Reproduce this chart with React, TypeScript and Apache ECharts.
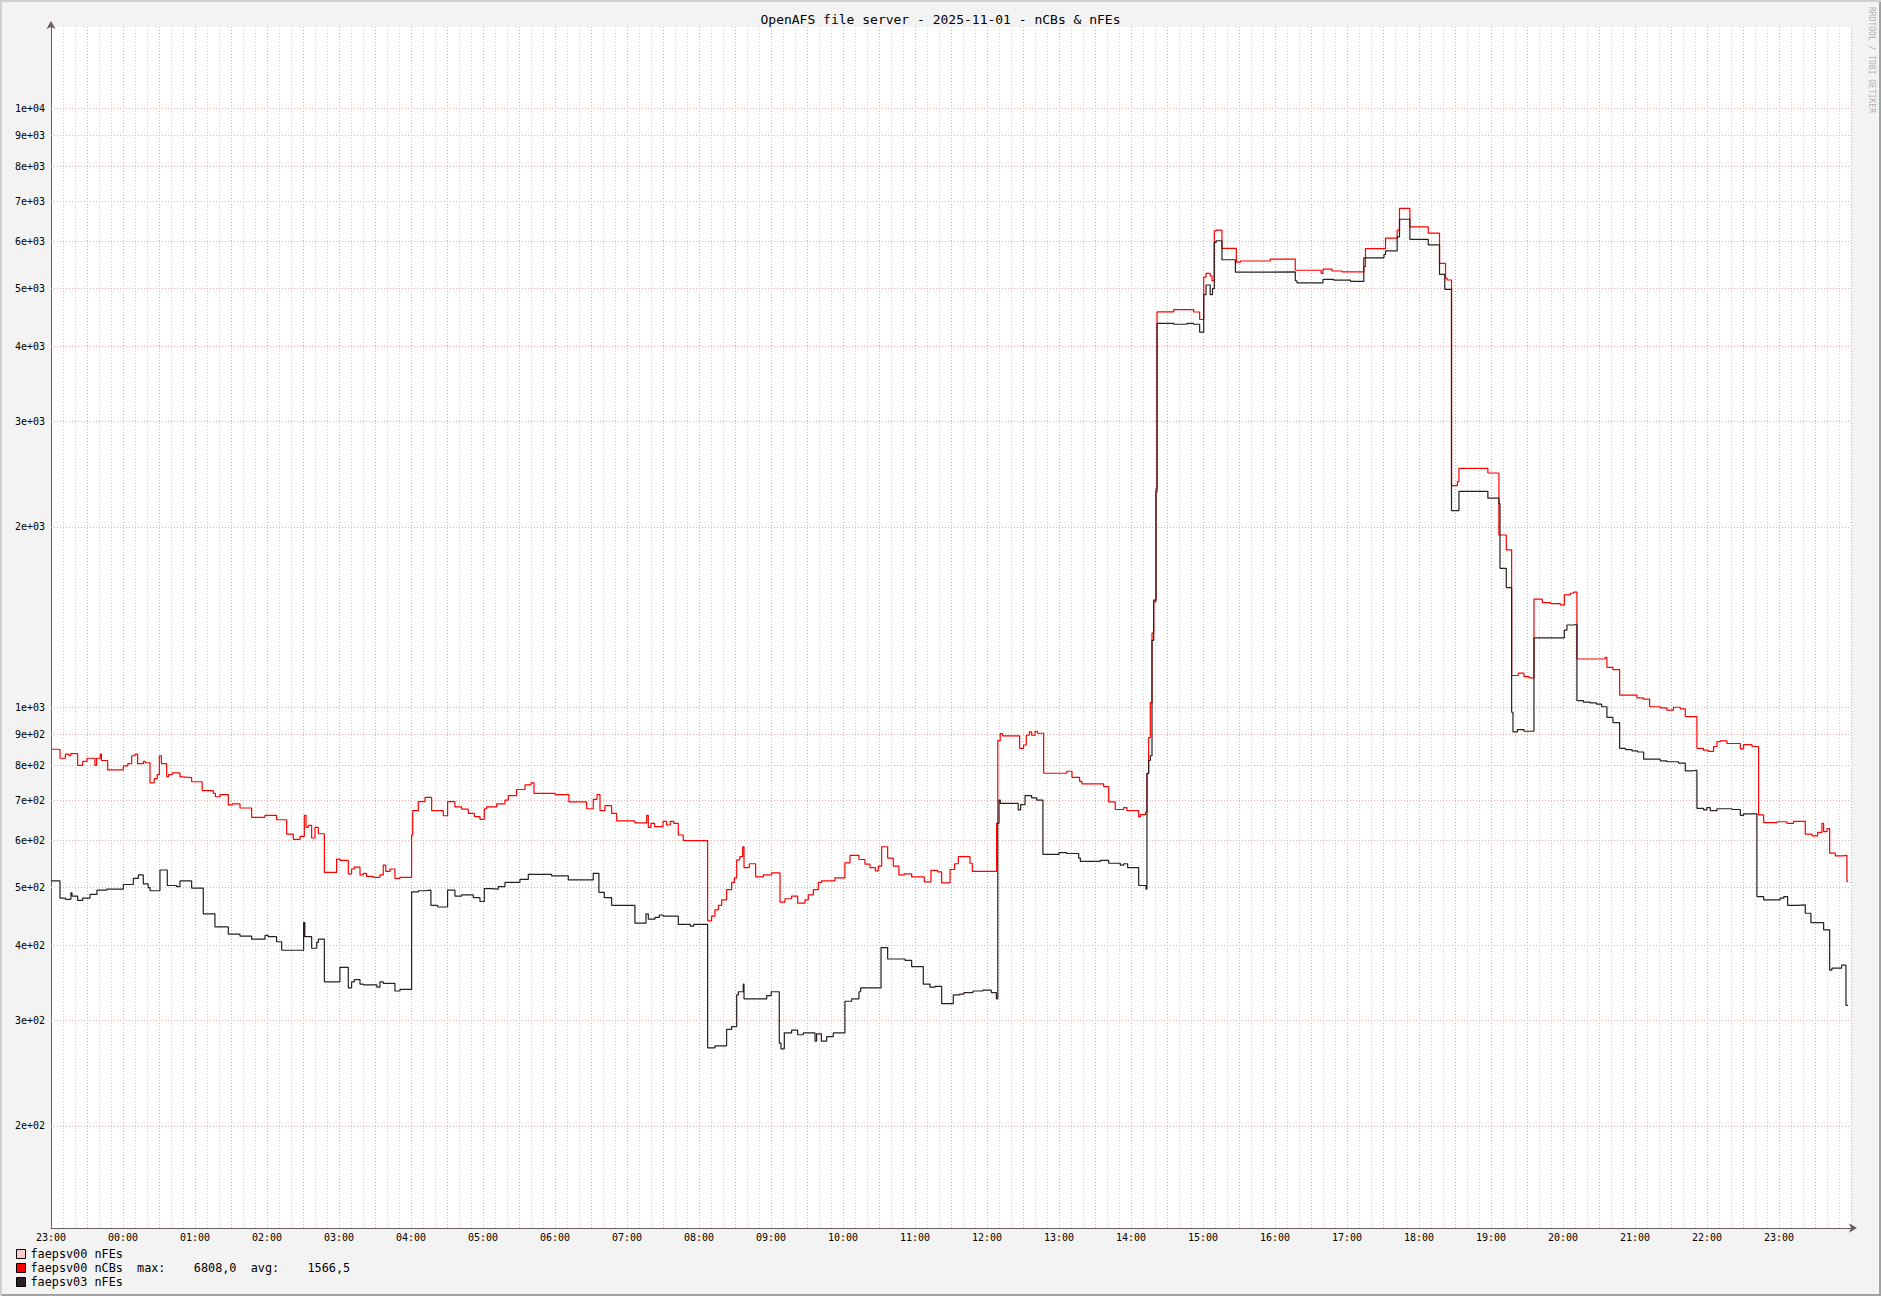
import React, { useEffect, useRef } from 'react';
import * as echarts from 'echarts';

const FONT = '"DejaVu Sans Mono", "Liberation Mono", monospace';
const TITLE = 'OpenAFS file server - 2025-11-01 - nCBs & nFEs';
const CREDIT = 'RRDTOOL / TOBI OETIKER';
const START_HOUR = 23; // x axis starts 2025-10-31 23:00, unit = minutes
const SPAN_MIN = 1500;

const seriesNames = ['faepsv00 nFEs', 'faepsv00 nCBs', 'faepsv03 nFEs'];
const seriesColors = ['#ffcccc', '#ff0000', '#2a1e1e'];
const nCBsMax = '6808,0';
const nCBsAvg = '1566,5';

const yTickValues = [200, 300, 400, 500, 600, 700, 800, 900, 1000, 2000, 3000, 4000, 5000, 6000, 7000, 8000, 9000, 10000];

const pinkTimes: number[] = [];
const pinkValues: number[] = [];

const redTimes = [
  0, 7.5, 12, 15, 16.5, 22.2, 26.4, 30, 36.6, 38, 41, 42, 47.2, 60.3, 64, 67.2, 70, 72.2, 77, 78.5,
  82.5, 86, 88.5, 90.3, 92, 96.4, 98, 101, 107.5, 109, 117.2, 126, 135.3, 137, 140.8, 147.75, 151, 157.5, 167.2, 178.3,
  188, 196.4, 201.9, 207.5, 211.1, 212.5, 214.4, 217.2, 220, 222.8, 227.8, 238, 241, 247.75, 250.5, 252.75, 257.5, 260.25, 263, 268.6,
  274.1, 276.9, 279, 282.5, 286.6, 290.8, 300.5, 301.4, 306.1, 311.7, 317.2, 326.9, 330.5, 336.6, 342.2, 347.75, 352.75, 357.5, 361.1, 363,
  371.4, 378.3, 381.1, 388, 395, 400, 402.5, 420, 431.6, 446.4, 451.9, 455, 457.5, 461.6, 467.2, 471.4, 486.6, 496.4, 497.75, 500,
  503, 510, 513, 516, 519, 522.75, 526.9, 547.2, 550.5, 553.3, 556.1, 558.9, 563, 567.2, 569.5, 571.4, 574, 576.4, 577.5, 581.9,
  587.2, 593.6, 600.5, 607.5, 611.6, 617.2, 622.2, 628.3, 631.1, 635.3, 639.4, 642, 653.3, 661.6, 665.8, 673.3, 678.3, 682.5, 687, 689.4,
  692.2, 697.2, 701.9, 706.6, 711.1, 717.2, 727.75, 733.3, 738.9, 742.2, 749.2, 753, 756.1, 765.8, 767.75, 788, 789, 791, 793, 807.2,
  810.5, 812.75, 815.3, 817.2, 820, 822, 827.2, 846.5, 850.8, 857.2, 859.1, 877.2, 881.4, 886.9, 893.9, 896.7, 906.4, 907.8, 912, 913.3,
  914.7, 916.1, 917.5, 918.9, 920.8, 921.7, 935.6, 952.2, 957.2, 960.6, 962.5, 966, 967.5, 969.4, 971, 975.8, 987.8, 991.1, 1016.1, 1036.9,
  1058.5, 1060, 1067.5, 1075.9, 1094, 1095.4, 1112.1, 1121.8, 1123.75, 1132.4, 1147.7, 1157.1, 1162.1, 1163.5, 1167.1, 1172, 1173.3, 1197.4, 1206.6, 1212.75,
  1217.2, 1222.75, 1227.5, 1231.6, 1235.8, 1242.75, 1249.75, 1257.75, 1261.1, 1266, 1268.8, 1271.6, 1295.2, 1296.6, 1301.6, 1307.2, 1321.6, 1327, 1332.2, 1341,
  1346.6, 1352, 1357.7, 1361.9, 1371.6, 1377, 1381, 1385.5, 1388.3, 1391.1, 1396.6, 1407.75, 1410.5, 1417.5, 1423, 1427.2, 1438.3, 1446.6, 1452.2, 1461.9,
  1467.5, 1472.2, 1475.8, 1477.2, 1480, 1482.2, 1486.9, 1492.5, 1496.6, 1497.5,
];
const redValues = [
  851, 822, 835, 830, 837, 800, 812, 822, 800, 822, 835, 815, 786, 798, 805, 830, 835, 805, 812, 808,
  748, 760, 772, 830, 805, 766, 772, 777, 765, 763, 751, 726, 718, 709, 715, 687, 690, 679, 655, 660,
  649, 614, 602, 609, 660, 630, 635, 605, 630, 615, 530, 558, 555, 527, 537, 541, 525, 528, 522, 520,
  525, 545, 532, 537, 518, 520, 612, 672, 696, 707, 672, 659, 696, 682, 676, 665, 657, 650, 677, 682,
  690, 700, 712, 729, 742, 748, 718, 715, 695, 677, 702, 715, 672, 685, 665, 646, 641, 660, 630, 640,
  632, 645, 636, 645, 640, 612, 599, 440, 448, 459, 467, 477, 496, 510, 519, 556, 563, 585, 540, 548,
  521, 525, 529, 473, 479, 484, 471, 477, 486, 496, 510, 513, 519, 550, 566, 557, 547, 540, 533, 543,
  585, 560, 543, 525, 527, 521, 511, 534, 531, 509, 536, 548, 563, 549, 532, 640, 880, 904, 896, 854,
  865, 898, 910, 898, 912, 905, 776, 782, 764, 752, 745, 737, 695, 675, 680, 672, 656, 662, 668, 776,
  890, 1018, 1330, 1499, 2317, 4571, 4612, 4570, 4440, 5226, 5300, 5250, 5150, 6240, 6260, 5836, 5534, 5560, 5600, 5365,
  5300, 5390, 5350, 5330, 5440, 5832, 6071, 6260, 6808, 6339, 6187, 5507, 5200, 5168, 2344, 2380, 2506, 2461, 1939, 1832,
  1130, 1140, 1125, 1120, 1515, 1495, 1490, 1482, 1540, 1550, 1557, 1204, 1212, 1166, 1156, 1048, 1037, 1032, 1002, 998,
  989, 1000, 994, 965, 854, 848, 844, 860, 876, 879, 870, 852, 866, 860, 661, 642, 644, 640, 645, 614,
  610, 618, 640, 620, 627, 571, 565, 566, 512, 512,
];

const blackTimes = [
  0, 7.5, 12, 16.6, 17.5, 22.2, 26.4, 32.5, 38.3, 46.4, 60.3, 68.6, 72.8, 76.9, 81, 82.5, 90.8, 96.9, 104.7, 107.5,
  117.2, 126.9, 136.6, 147.75, 157.5, 167.2, 178.3, 181, 188, 192.2, 210.5, 211.5, 217.2, 221.4, 222.8, 227.8, 240.75, 247.75, 250.5, 252.75,
  257.5, 260.25, 271.5, 274.1, 276.9, 286.6, 290.8, 300.5, 306.1, 311.7, 316.6, 322.2, 330.5, 336.6, 342.2, 351.9, 357.5, 361.1, 367, 372.7,
  378.3, 390.8, 397.75, 417.2, 431.1, 451.9, 456.6, 461.1, 467.2, 486.6, 495.8, 497.75, 503.3, 507, 510, 522.75, 532.8, 535.6, 547.2, 553.3,
  563, 567.2, 571.4, 572.8, 576.9, 577.5, 596.4, 600.2, 606.9, 608.3, 611.1, 617.2, 622.2, 626.9, 636.7, 638, 642, 646.4, 651.9, 661.6,
  667.2, 673.3, 674.7, 691.7, 697.2, 711.7, 717.2, 726.9, 732.5, 736.7, 742.2, 751.9, 757.2, 760.8, 768.3, 776.6, 783.6, 787.8, 789, 790,
  791.1, 806, 808, 811.7, 817.2, 821.4, 826.6, 840, 846.5, 856.4, 857.8, 874.4, 881.4, 891.1, 893.9, 897.2, 906.4, 912.5, 913.3, 914.7,
  916.1, 917.5, 918.9, 920.8, 921.7, 935.6, 946.7, 952.2, 957.2, 960.6, 962.5, 966, 967.9, 969.4, 971, 975.8, 987, 999.4, 1036.9, 1038.3,
  1060, 1069, 1083, 1094, 1110.8, 1112.1, 1121.8, 1123.75, 1132.4, 1147.7, 1157.1, 1161.5, 1167.1, 1173.3, 1197.4, 1206.6, 1207.5, 1212.75, 1217.2, 1218.3,
  1222, 1227.5, 1235.8, 1261.1, 1263.3, 1268.8, 1271.6, 1277, 1282.5, 1288, 1292.2, 1296.6, 1301.6, 1307.2, 1312, 1317.5, 1322.2, 1327.2, 1341, 1346.6,
  1356.3, 1361.9, 1367.5, 1371.6, 1377.2, 1379.8, 1382.7, 1388.3, 1400.8, 1407.75, 1410.5, 1421.6, 1427.2, 1441, 1444, 1447.2, 1455, 1461.9, 1466.6, 1477.2,
  1482.2, 1484.1, 1492.2, 1495.8, 1497.5,
];
const blackValues = [
  513, 480, 478, 490, 484, 476, 480, 487, 495, 497, 506, 518, 525, 507, 500, 494, 535, 504, 502, 513,
  499, 452, 430, 418, 415, 410, 416, 414, 406, 393, 437, 414, 396, 405, 410, 348, 368, 340, 348, 351,
  345, 344, 341, 348, 346, 336, 338, 492, 494, 495, 467, 464, 495, 484, 486, 481, 474, 498, 497, 502,
  510, 516, 526, 523, 515, 528, 491, 481, 467, 436, 452, 443, 446, 450, 448, 434, 431, 434, 270, 272,
  290, 293, 331, 335, 345, 326, 330, 335, 275, 269, 286, 289, 284, 286, 277, 285, 277, 282, 286, 323,
  326, 335, 340, 397, 380, 378, 369, 345, 341, 342, 320, 331, 332, 334, 336, 337, 334, 326, 640, 700,
  691, 674, 688, 712, 706, 700, 568, 572, 570, 560, 553, 555, 549, 545, 548, 540, 504, 497, 775, 815,
  830, 1293, 1510, 2290, 4375, 4360, 4375, 4360, 4230, 4885, 5070, 4885, 5000, 5972, 6010, 5586, 5325, 5332, 5153, 5112,
  5180, 5165, 5140, 5628, 5700, 5780, 6100, 6527, 6043, 5916, 5281, 4984, 2130, 2294, 2234, 2187, 1706, 1584, 981, 910,
  918, 912, 1306, 1345, 1372, 1375, 1026, 1020, 1017, 1012, 1002, 962, 943, 854, 850, 846, 842, 819, 814, 811,
  807, 783, 785, 678, 674, 680, 672, 677, 675, 660, 664, 483, 477, 480, 483, 467, 468, 453, 437, 425,
  364, 367, 371, 318, 318,
];

const MAJOR_GRID = '#eba8a8';
const MINOR_GRID = '#d2d2d2';
const AXIS_COLOR = '#6e6060';

const nb = (s: string) => s.replace(/ /g, '\u00a0');

const sciLabel = (v: number) => {
  const e = Math.floor(Math.log10(v) + 1e-9);
  const m = Math.round(v / Math.pow(10, e));
  return `${m}e+${String(e).padStart(2, '0')}`;
};

const hourLabel = (v: number) => {
  if (v % 60 !== 0 || v >= SPAN_MIN) return '';
  const h = (START_HOUR + v / 60) % 24;
  return `${String(h).padStart(2, '0')}:00`;
};

const pairs = (ts: number[], vs: number[]) => ts.map((t, i) => [t, vs[i]]);

export default function App() {
  const ref = useRef<HTMLDivElement>(null);

  useEffect(() => {
    if (!ref.current) return;
    const chart = echarts.init(ref.current, undefined, { renderer: 'svg' });
    const dataSets = [
      pairs(pinkTimes, pinkValues),
      pairs(redTimes, redValues),
      pairs(blackTimes, blackValues),
    ];
    const option: any = {
      animation: false,
      backgroundColor: 'transparent',
      textStyle: { fontFamily: FONT },
      title: {
        text: TITLE,
        left: 'center',
        top: 8,
        textStyle: { fontFamily: FONT, fontSize: 13, fontWeight: 'normal', color: '#000' },
      },
      grid: {
        left: 51,
        top: 27,
        width: 1800,
        height: 1201,
        show: true,
        backgroundColor: '#ffffff',
        borderWidth: 0,
      },
      legend: {
        orient: 'vertical',
        left: 16,
        top: 1247,
        padding: 0,
        itemGap: 0,
        itemWidth: 9,
        itemHeight: 9,
        icon: 'rect',
        selectedMode: false,
        data: seriesNames,
        itemStyle: { borderColor: '#000', borderWidth: 1 },
        textStyle: { fontFamily: FONT, fontSize: 11.8, color: '#000', lineHeight: 14 },
        formatter: (name: string) =>
          name === seriesNames[1]
            ? nb(`${name}  max:    ${nCBsMax}  avg:    ${nCBsAvg}`)
            : nb(name),
      },
      xAxis: {
        type: 'value',
        min: 0,
        max: SPAN_MIN,
        interval: 30,
        axisLine: {
          show: true,
          lineStyle: { color: AXIS_COLOR, width: 1 },
          symbol: ['none', 'arrow'],
          symbolSize: [7, 8],
          symbolOffset: [0, 6],
        },
        axisTick: { show: false },
        axisLabel: {
          formatter: hourLabel,
          fontFamily: FONT,
          fontSize: 10,
          color: '#000',
          margin: 4,
          showMaxLabel: false,
        },
        splitLine: { show: true, lineStyle: { color: MAJOR_GRID, type: [1, 2], width: 1 } },
        minorTick: { show: false, splitNumber: 3 },
        minorSplitLine: { show: true, lineStyle: { color: MINOR_GRID, type: [1, 2], width: 1 } },
      },
      yAxis: {
        type: 'log',
        min: 135.1,
        max: 13668,
        axisLine: {
          show: true,
          lineStyle: { color: AXIS_COLOR, width: 1 },
          symbol: ['none', 'arrow'],
          symbolSize: [7, 8],
          symbolOffset: [0, 6],
        },
        axisTick: { show: false },
        axisLabel: { show: false },
        splitLine: { show: false },
        minorSplitLine: { show: false },
      },
      graphic: [
        {
          type: 'text',
          x: 1871,
          y: 60,
          rotation: -Math.PI / 2,
          silent: true,
          style: {
            text: CREDIT,
            fontFamily: FONT,
            fontSize: 8,
            fill: '#b4b4b4',
            align: 'center',
            verticalAlign: 'middle',
          },
        },
      ],
      series: [
        {
          type: 'line',
          name: 'ygrid',
          data: [],
          silent: true,
          z: 1,
          markLine: {
            silent: true,
            z: 1,
            symbol: ['none', 'none'],
            animation: false,
            lineStyle: { color: MAJOR_GRID, type: [1, 2], width: 1 },
            label: {
              show: true,
              position: 'start',
              formatter: '{b}',
              fontFamily: FONT,
              fontSize: 10,
              color: '#000',
              distance: 6,
            },
            emphasis: { disabled: true },
            data: yTickValues.map((v) => ({ yAxis: v, name: sciLabel(v) })),
          },
        },
        ...seriesNames.map((name, i) => ({
          type: 'line',
          name,
          data: dataSets[i],
          step: 'end',
          symbol: 'none',
          showSymbol: false,
          silent: true,
          z: 3 + i,
          color: seriesColors[i],
          itemStyle: { color: seriesColors[i] },
          lineStyle: { width: 1.2, color: seriesColors[i] },
        })),
      ],
    };
    chart.setOption(option);
    return () => chart.dispose();
  }, []);

  return (
    <div
      style={{
        position: 'fixed',
        left: 0,
        top: 0,
        width: 1881,
        height: 1296,
        background: '#f3f3f3',
        boxShadow: 'inset 2px 2px 0 #cfcfcf, inset -2px -2px 0 #a2a2a2',
      }}
    >
      <div ref={ref} style={{ width: 1881, height: 1296 }} />
    </div>
  );
}
